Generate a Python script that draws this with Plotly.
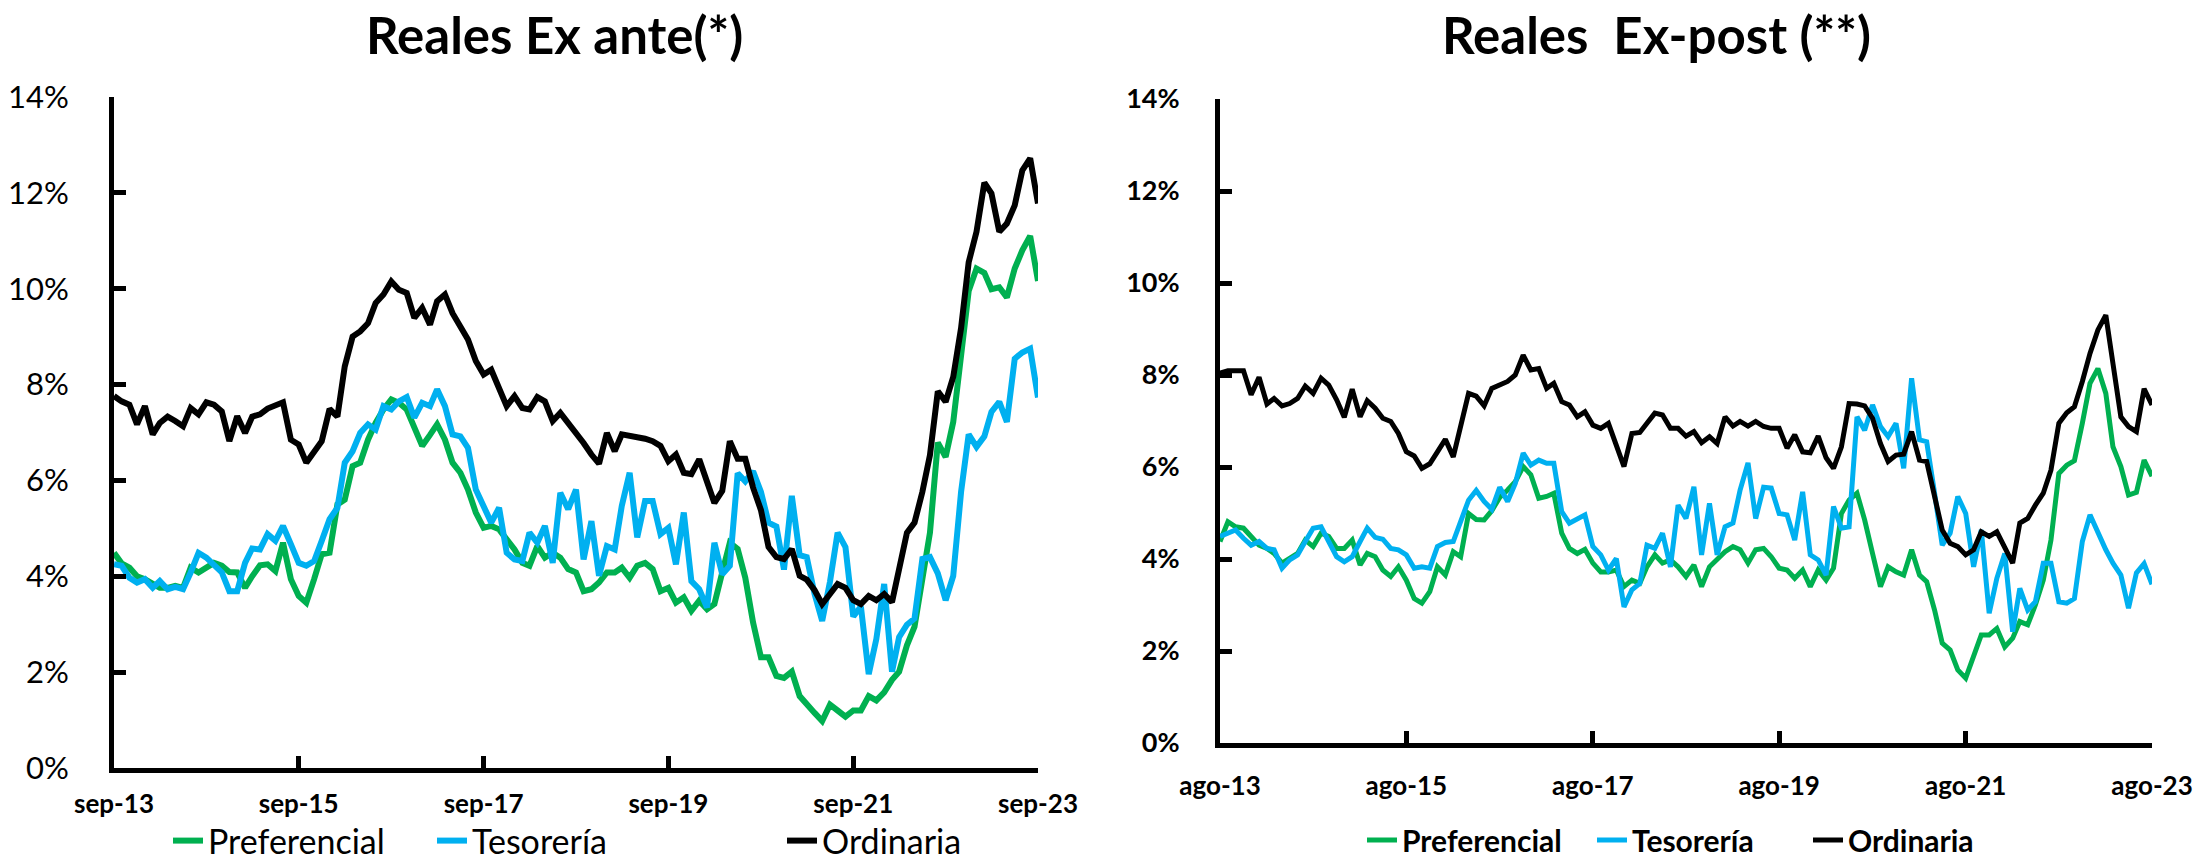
import pandas as pd
import plotly.graph_objects as go

# ---------------- data (percent) ----------------
months_ante = pd.date_range("2013-09-01", "2023-09-01", freq="MS")
months_post = pd.date_range("2013-08-01", "2023-08-01", freq="MS")

ante_preferencial = [
    4.49, 4.27, 4.18, 4.00, 3.94, 3.83, 3.76, 3.76, 3.80, 3.76,
    4.18, 4.08, 4.18, 4.28, 4.22, 4.09, 4.08, 3.76, 4.00, 4.23,
    4.25, 4.11, 4.70, 3.94, 3.59, 3.45, 3.94, 4.46, 4.49, 5.50,
    5.60, 6.30, 6.37, 6.85, 7.20, 7.48, 7.69, 7.62, 7.48, 7.13,
    6.72, 6.95, 7.17, 6.85, 6.37, 6.16, 5.81, 5.33, 5.01, 5.05,
    4.98, 4.77, 4.56, 4.28, 4.22, 4.63, 4.39, 4.49, 4.39, 4.15,
    4.08, 3.69, 3.73, 3.87, 4.08, 4.08, 4.18, 3.97, 4.22, 4.28,
    4.15, 3.69, 3.76, 3.45, 3.56, 3.28, 3.49, 3.31, 3.42, 4.08,
    4.70, 4.57, 3.97, 3.03, 2.31, 2.31, 1.92, 1.88, 2.01, 1.50,
    1.32, 1.15, 0.98, 1.32, 1.20, 1.07, 1.20, 1.20, 1.50, 1.41,
    1.58, 1.84, 2.01, 2.56, 2.95, 3.89, 4.91, 6.79, 6.49, 7.22,
    8.75, 9.95, 10.42, 10.33, 9.99, 10.03, 9.82, 10.42, 10.80, 11.10,
    10.16,
]
ante_tesoreria = [
    4.25, 4.22, 3.97, 3.87, 3.94, 3.76, 3.90, 3.73, 3.78, 3.73,
    4.08, 4.49, 4.39, 4.22, 4.08, 3.69, 3.69, 4.28, 4.58, 4.56,
    4.88, 4.74, 5.05, 4.67, 4.28, 4.22, 4.32, 4.74, 5.19, 5.43,
    6.37, 6.61, 6.99, 7.17, 7.06, 7.55, 7.48, 7.65, 7.74, 7.31,
    7.62, 7.55, 7.90, 7.55, 6.96, 6.92, 6.68, 5.81, 5.43, 5.12,
    5.43, 4.49, 4.35, 4.32, 4.91, 4.70, 5.05, 4.28, 5.74, 5.40,
    5.81, 4.35, 5.15, 4.01, 4.63, 4.56, 5.47, 6.16, 4.81, 5.57,
    5.57, 4.88, 5.01, 4.25, 5.33, 3.90, 3.73, 3.35, 4.70, 4.04,
    4.22, 6.15, 5.98, 6.19, 5.76, 5.12, 5.04, 4.14, 5.68, 4.44,
    4.40, 3.63, 3.07, 3.89, 4.91, 4.61, 3.16, 3.37, 1.96, 2.69,
    3.84, 2.01, 2.73, 2.99, 3.12, 4.36, 4.40, 4.06, 3.50, 4.01,
    5.76, 6.96, 6.70, 6.92, 7.43, 7.64, 7.22, 8.54, 8.67, 8.75,
    7.73,
]
ante_ordinaria = [
    7.76, 7.65, 7.58, 7.17, 7.55, 6.96, 7.20, 7.33, 7.24, 7.13,
    7.51, 7.38, 7.63, 7.58, 7.44, 6.82, 7.34, 6.99, 7.33, 7.38,
    7.50, 7.56, 7.63, 6.85, 6.75, 6.37, 6.59, 6.82, 7.49, 7.33,
    8.38, 9.00, 9.11, 9.28, 9.70, 9.88, 10.15, 9.98, 9.91, 9.39,
    9.60, 9.25, 9.74, 9.88, 9.49, 9.18, 8.94, 8.49, 8.21, 8.31,
    7.93, 7.55, 7.76, 7.51, 7.48, 7.74, 7.65, 7.24, 7.41, 7.20,
    7.03, 6.78, 6.54, 6.35, 6.99, 6.61, 6.96, 6.94, 6.92, 6.87,
    6.82, 6.72, 6.40, 6.54, 6.16, 6.13, 6.44, 5.95, 5.53, 5.78,
    6.82, 6.45, 6.45, 5.85, 5.38, 4.61, 4.40, 4.36, 4.57, 4.01,
    3.93, 3.71, 3.42, 3.63, 3.84, 3.76, 3.50, 3.42, 3.59, 3.50,
    3.63, 3.46, 4.14, 4.91, 5.12, 5.76, 6.53, 7.86, 7.64, 8.16,
    9.18, 10.55, 11.19, 12.21, 11.99, 11.19, 11.36, 11.74, 12.47, 12.72,
    11.78,
]

post_preferencial = [
    4.38, 4.81, 4.70, 4.67, 4.49, 4.30, 4.23, 4.12, 3.91, 4.01,
    4.12, 4.41, 4.27, 4.56, 4.49, 4.23, 4.23, 4.41, 3.87, 4.12,
    4.05, 3.76, 3.62, 3.83, 3.54, 3.14, 3.04, 3.29, 3.83, 3.65,
    4.16, 4.05, 4.99, 4.86, 4.85, 5.05, 5.34, 5.50, 5.68, 6.01,
    5.83, 5.32, 5.36, 5.43, 4.56, 4.23, 4.12, 4.21, 3.91, 3.72,
    3.72, 3.76, 3.40, 3.54, 3.47, 3.83, 4.09, 3.91, 3.98, 3.83,
    3.62, 3.87, 3.40, 3.83, 4.01, 4.16, 4.27, 4.20, 3.91, 4.20,
    4.23, 4.05, 3.80, 3.76, 3.58, 3.76, 3.40, 3.76, 3.54, 3.80,
    4.99, 5.28, 5.43, 4.85, 4.12, 3.40, 3.83, 3.72, 3.65, 4.20,
    3.65, 3.51, 2.89, 2.17, 2.02, 1.59, 1.41, 1.88, 2.35, 2.35,
    2.49, 2.09, 2.28, 2.64, 2.57, 3.00, 3.54, 4.41, 5.86, 6.04,
    6.14, 6.95, 7.82, 8.14, 7.60, 6.44, 6.01, 5.39, 5.45, 6.15,
    5.80,
]
post_tesoreria = [
    4.49, 4.56, 4.63, 4.45, 4.30, 4.38, 4.23, 4.20, 3.80, 3.98,
    4.09, 4.38, 4.67, 4.70, 4.38, 4.05, 3.94, 4.05, 4.38, 4.67,
    4.47, 4.43, 4.23, 4.20, 4.09, 3.80, 3.83, 3.80, 4.27, 4.36,
    4.38, 4.78, 5.28, 5.49, 5.25, 5.08, 5.56, 5.25, 5.64, 6.30,
    6.04, 6.15, 6.08, 6.08, 5.03, 4.78, 4.88, 4.96, 4.27, 4.09,
    3.76, 4.01, 2.96, 3.33, 3.47, 4.30, 4.23, 4.56, 3.83, 5.17,
    4.88, 5.57, 4.09, 5.21, 4.09, 4.70, 4.78, 5.50, 6.09, 4.88,
    5.56, 5.54, 4.99, 4.96, 4.41, 5.46, 4.09, 3.98, 3.65, 5.14,
    4.67, 4.70, 7.09, 6.80, 7.35, 6.88, 6.66, 6.95, 5.97, 7.93,
    6.59, 6.55, 5.43, 4.30, 4.56, 5.36, 4.99, 3.83, 4.63, 2.82,
    3.58, 4.12, 2.42, 3.36, 2.89, 3.07, 3.91, 3.91, 3.07, 3.04,
    3.14, 4.38, 4.96, 4.56, 4.20, 3.91, 3.65, 2.93, 3.70, 3.90,
    3.45,
]
post_ordinaria = [
    8.04, 8.09, 8.09, 8.09, 7.57, 7.95, 7.37, 7.49, 7.33, 7.38,
    7.49, 7.76, 7.60, 7.93, 7.78, 7.46, 7.08, 7.69, 7.09, 7.44,
    7.28, 7.06, 6.99, 6.73, 6.33, 6.24, 5.97, 6.07, 6.33, 6.60,
    6.22, 6.84, 7.60, 7.54, 7.33, 7.71, 7.80, 7.86, 8.00, 8.43,
    8.11, 8.14, 7.71, 7.82, 7.42, 7.35, 7.09, 7.20, 6.91, 6.84,
    6.95, 6.44, 6.01, 6.73, 6.75, 6.95, 7.17, 7.13, 6.84, 6.84,
    6.67, 6.77, 6.53, 6.66, 6.51, 7.09, 6.89, 6.99, 6.89, 6.99,
    6.88, 6.84, 6.84, 6.41, 6.70, 6.33, 6.31, 6.67, 6.20, 5.97,
    6.44, 7.38, 7.37, 7.33, 7.06, 6.51, 6.12, 6.26, 6.28, 6.77,
    6.15, 6.12, 5.36, 4.63, 4.34, 4.27, 4.09, 4.20, 4.59, 4.49,
    4.59, 4.27, 3.91, 4.78, 4.88, 5.17, 5.43, 5.93, 6.95, 7.18,
    7.31, 7.86, 8.47, 8.98, 9.30, 8.25, 7.09, 6.88, 6.77, 7.70,
    7.35,
]

series_names = ["Preferencial", "Tesorería", "Ordinaria"]
colors = ["#00B050", "#00B0F0", "#000000"]

ante_ticks = pd.date_range("2013-09-01", "2023-09-01", freq="24MS")
ante_ticktext = ["sep-13", "sep-15", "sep-17", "sep-19", "sep-21", "sep-23"]
post_ticks = pd.date_range("2013-08-01", "2023-08-01", freq="24MS")
post_ticktext = ["ago-13", "ago-15", "ago-17", "ago-19", "ago-21", "ago-23"]
y_ticks = [0, 2, 4, 6, 8, 10, 12, 14]
y_ticktext = ["0%", "2%", "4%", "6%", "8%", "10%", "12%", "14%"]

title_left = "Reales Ex ante(*)"
title_right = "Reales\u00a0\u00a0Ex-post (**)"

# ---------------- figure ----------------
W, H = 2198, 863
fig = go.Figure()

narrow = "Liberation Sans Narrow, Arial Narrow, Lato, sans-serif"
lato = "Lato, Calibri, Carlito, sans-serif"

left_legends = ["legend", "legend2", "legend3"]
right_legends = ["legend4", "legend5", "legend6"]

for name, vals, col, lg in zip(series_names, [ante_preferencial, ante_tesoreria, ante_ordinaria],
                               colors, left_legends):
    fig.add_trace(go.Scatter(x=months_ante, y=vals, mode="lines", name=name,
                             line=dict(color=col, width=6), xaxis="x", yaxis="y",
                             legend=lg, hoverinfo="skip"))
for name, vals, col, lg in zip(series_names, [post_preferencial, post_tesoreria, post_ordinaria],
                               colors, right_legends):
    fig.add_trace(go.Scatter(x=months_post, y=vals, mode="lines", name=name,
                             line=dict(color=col, width=5), xaxis="x2", yaxis="y2",
                             legend=lg, hoverinfo="skip"))

axis_common = dict(showline=True, linecolor="black", linewidth=5, ticks="inside",
                   ticklen=12, tickwidth=5, tickcolor="black", showgrid=False,
                   zeroline=False, mirror=False, automargin=False)


def legend_at(text_left_px, y_px, font):
    return dict(orientation="h", x=(text_left_px - 45) / W, xanchor="left",
                y=1 - y_px / H, yanchor="middle", font=font,
                bgcolor="rgba(0,0,0,0)", borderwidth=0,
                itemclick=False, itemdoubleclick=False)


left_font = dict(family=narrow, size=34, color="black")
right_font = dict(family=narrow, size=30, color="black", weight="bold")

layout_legends = {}
for lg, tx in zip(left_legends, [213, 477, 827]):
    layout_legends[lg] = legend_at(tx, 841, left_font)
for lg, tx in zip(right_legends, [1407, 1637, 1853]):
    layout_legends[lg] = legend_at(tx, 840, right_font)

fig.update_layout(
    width=W, height=H,
    margin=dict(l=0, r=0, t=0, b=0, autoexpand=False),
    paper_bgcolor="white", plot_bgcolor="white",
    showlegend=True,
    xaxis=dict(domain=[114 / W, 1038 / W], anchor="y", type="date",
               range=[months_ante[0], months_ante[-1]],
               tickvals=ante_ticks, ticktext=ante_ticktext,
               tickfont=dict(family=narrow, size=26, color="black", weight="bold"),
               ticklabelstandoff=9, **axis_common),
    yaxis=dict(domain=[1 - 768 / H, 1 - 97 / H], anchor="x", range=[0, 14],
               tickvals=y_ticks, ticktext=y_ticktext,
               tickfont=dict(family=lato, size=31, color="black"),
               ticklabelstandoff=34, **axis_common),
    xaxis2=dict(domain=[1220 / W, 2152 / W], anchor="y2", type="date",
                range=[months_post[0], months_post[-1]],
                tickvals=post_ticks, ticktext=post_ticktext,
                tickfont=dict(family=narrow, size=26, color="black", weight="bold"),
                ticklabelstandoff=16, **axis_common),
    yaxis2=dict(domain=[1 - 743 / H, 1 - 99 / H], anchor="x2", range=[0, 14],
                tickvals=y_ticks, ticktext=y_ticktext,
                tickfont=dict(family=lato, size=27, color="black", weight="bold"),
                ticklabelstandoff=30, **axis_common),
    annotations=[
        dict(text=title_left, x=554 / W, y=1 - 35 / H, xref="paper", yref="paper",
             xanchor="center", yanchor="middle", showarrow=False,
             font=dict(family=lato, size=51, color="black", weight="bold")),
        dict(text=title_right, x=1656 / W, y=1 - 35 / H, xref="paper", yref="paper",
             xanchor="center", yanchor="middle", showarrow=False,
             font=dict(family=lato, size=51, color="black", weight="bold")),
    ],
    **layout_legends,
)

fig.write_html("out.html",
               config={"displayModeBar": False},
               post_script="document.body.style.margin='0px';document.body.style.overflow='hidden';")
